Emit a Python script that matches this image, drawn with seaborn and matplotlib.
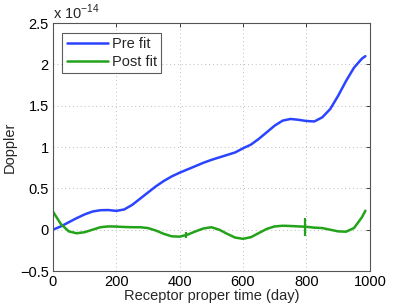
import numpy as np
import pandas as pd
import matplotlib
matplotlib.use("Agg")
import matplotlib.pyplot as plt
import seaborn as sns

# Data (Doppler in units of 1e-14)
days = [0, 25, 50, 75, 100, 125, 150, 175, 200, 225, 250, 275, 300, 325, 350, 375,
        400, 425, 450, 475, 500, 525, 550, 575, 600, 625, 650, 675, 700, 725, 750,
        775, 800, 825, 850, 875, 900, 925, 950, 975, 986]
pre_fit = [0.0, 0.04, 0.09, 0.14, 0.185, 0.22, 0.236, 0.238, 0.228, 0.245, 0.30, 0.375,
           0.45, 0.525, 0.59, 0.645, 0.69, 0.73, 0.77, 0.81, 0.845, 0.875, 0.905, 0.935,
           0.985, 1.03, 1.10, 1.18, 1.26, 1.32, 1.34, 1.33, 1.315, 1.31, 1.36, 1.46, 1.62,
           1.80, 1.96, 2.07, 2.10]
post_fit = [0.22, 0.07, -0.02, -0.043, -0.03, 0.0, 0.03, 0.04, 0.038, 0.033, 0.03, 0.03,
            0.02, -0.01, -0.05, -0.08, -0.084, -0.06, -0.02, 0.015, 0.03, 0.0, -0.05, -0.095,
            -0.11, -0.09, -0.04, 0.01, 0.04, 0.048, 0.045, 0.04, 0.035, 0.025, 0.02, 0.0,
            -0.02, -0.024, 0.02, 0.15, 0.23]
mark_days = [419, 797]
mark_vals = [-0.06, 0.036]
mark_sizes = [5, 13]

x_ticks = [0, 200, 400, 600, 800, 1000]
y_ticks = [-0.5, 0, 0.5, 1, 1.5, 2, 2.5]
y_tick_labels = ["\u22120.5", "0", "0.5", "1", "1.5", "2", "2.5"]

blue = "#2a44ff"
green = "#22a31a"

sns.set_theme(style="white")
plt.rcParams["font.family"] = ["Liberation Sans", "DejaVu Sans"]
plt.rcParams["mathtext.fontset"] = "custom"
plt.rcParams["mathtext.rm"] = "Liberation Sans"

fig = plt.figure(figsize=(4.10, 3.08), dpi=100)
ax = fig.add_axes([0.129, 0.12, 0.773, 0.805])

df = pd.DataFrame({"day": days + days,
                   "val": pre_fit + post_fit,
                   "series": ["Pre fit"] * len(days) + ["Post fit"] * len(days)})
sns.lineplot(data=df, x="day", y="val", hue="series", palette=[blue, green],
             linewidth=1.8, ax=ax, legend=True, estimator=None, sort=False)

for d, v, s in zip(mark_days, mark_vals, mark_sizes):
    ax.plot([d], [v], marker="|", color=green, markersize=s, markeredgewidth=1.6)

ax.set_xlim(0, 1000)
ax.set_ylim(-0.5, 2.5)
ax.set_xticks(x_ticks)
ax.set_yticks(y_ticks)
ax.set_yticklabels(y_tick_labels)
ax.tick_params(direction="in", length=3, width=0.6, labelsize=10.5, colors="#222222",
               top=True, right=True, pad=3)
ax.tick_params(axis="x", labelcolor="black")
ax.tick_params(axis="y", labelcolor="black")
ax.grid(True, linestyle=(0, (1, 3)), color="#bbbbbb", linewidth=0.7)
for sp in ax.spines.values():
    sp.set_color("#555555")
    sp.set_linewidth(0.8)

ax.set_xlabel("Receptor proper time (day)", fontsize=10.5, labelpad=0)
ax.set_ylabel("Doppler", fontsize=10.5, labelpad=2)
ax.text(0.0, 1.005, "x 10$^{-14}$", transform=ax.transAxes, fontsize=10.5,
        ha="left", va="bottom")

leg = ax.legend(loc="upper left", bbox_to_anchor=(0.03, 0.96), fontsize=10.5,
                frameon=True, fancybox=False, edgecolor="#333333", handlelength=2.8,
                borderpad=0.3, labelspacing=0.25, handletextpad=0.3, borderaxespad=0)
leg.get_frame().set_linewidth(0.8)

fig.savefig("out.png", dpi=100, facecolor="white")
